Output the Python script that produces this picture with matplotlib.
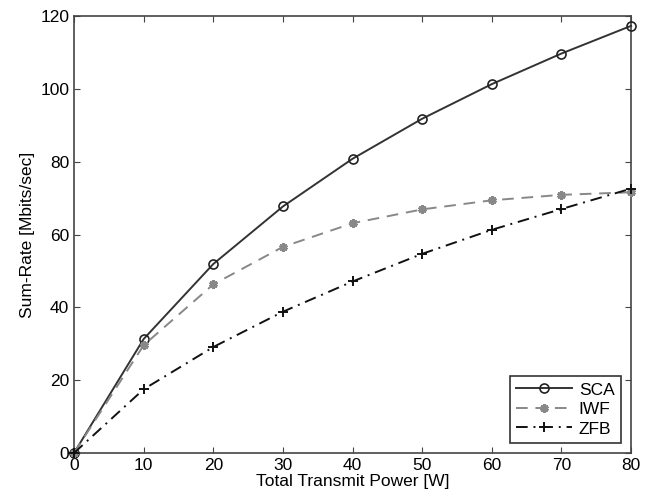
import numpy as np
import matplotlib.pyplot as plt

plt.rcParams['font.family'] = ['Liberation Sans', 'DejaVu Sans']

power = [0, 10, 20, 30, 40, 50, 60, 70, 80]
sca = [0, 31.3, 51.9, 67.7, 80.8, 91.8, 101.3, 109.7, 117.3]
iwf = [0, 29.6, 46.3, 56.6, 63.1, 66.9, 69.4, 70.9, 71.6]
zfb = [0, 17.5, 29.1, 38.8, 47.1, 54.7, 61.3, 67.0, 72.6]

fig = plt.figure(figsize=(6.56, 5.01), dpi=100)
ax = fig.add_axes([0.1128, 0.0958, 0.8492, 0.8722])

ax.plot(power, sca, '-', color='#333333', lw=1.4, marker='o', ms=6.5,
        mfc='none', mec='#222222', mew=1.2, label='SCA', clip_on=False,
        zorder=3)
ax.plot(power, iwf, '--', color='#888888', lw=1.4, marker=(6, 2, 0), ms=6,
        mfc='#888888', mec='#888888', mew=2.2, dashes=(6, 4), label='IWF',
        clip_on=False, zorder=3)
ax.plot(power, zfb, '-.', color='#111111', lw=1.4, marker='+', ms=7,
        mew=1.4, dashes=(6, 3, 1, 3), label='ZFB', clip_on=False, zorder=3)

ax.set_xlim(0, 80)
ax.set_ylim(0, 120)
ax.set_xticks(np.arange(0, 81, 10))
ax.set_yticks(np.arange(0, 121, 20))
ax.tick_params(direction='in', top=True, right=True, labelsize=12.5,
               length=4, color='#444444')
for s in ax.spines.values():
    s.set_color('#444444')
    s.set_linewidth(1.2)

ax.set_xlabel('Total Transmit Power [W]', fontsize=12.5, labelpad=1)
ax.set_ylabel('Sum-Rate [Mbits/sec]', fontsize=12.5, labelpad=4)

leg = ax.legend(loc='lower right', fontsize=12.5, fancybox=False,
                handlelength=3.2, borderpad=0.35, labelspacing=0.25,
                handletextpad=0.4, borderaxespad=0.6)
leg.get_frame().set_edgecolor('#333333')
leg.get_frame().set_linewidth(1.2)
leg.get_frame().set_alpha(1)
leg.set_zorder(5)

plt.savefig('out.png', dpi=100)
